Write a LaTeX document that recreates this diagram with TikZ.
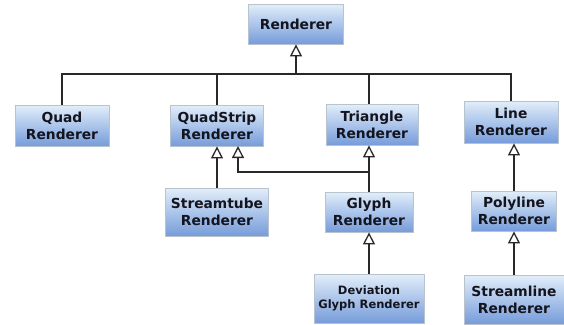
\documentclass[tikz,border=0pt]{standalone}
\usepackage{fontspec}
\setmainfont{DejaVu Sans}
\usetikzlibrary{arrows.meta}
\definecolor{boxtop}{RGB}{226,238,250}
\definecolor{boxbot}{RGB}{118,156,218}
\definecolor{boxline}{RGB}{185,195,205}
\definecolor{conn}{RGB}{40,40,40}
\definecolor{txt}{RGB}{20,20,30}
\tikzset{
  cls/.style={rectangle, draw=boxline, line width=0.8pt, top color=boxtop, bottom color=boxbot,
    inner sep=0pt, align=center, text=txt, font=\fontsize{13.8}{17}\selectfont\bfseries},
  small/.style={font=\fontsize{11.5}{14.5}\selectfont\bfseries},
  link/.style={draw=conn, line width=1.7pt},
  inherit/.style={link, -{Triangle[open, length=12pt, width=12pt, fill=white, line width=1.3pt]}},
}
\begin{document}
\begin{tikzpicture}[x=1pt, y=-1pt]
\useasboundingbox (0,0) rectangle (564,324);
\node[cls, minimum width=95pt, minimum height=40pt] (renderer) at (296,24) {Renderer};
\node[cls, minimum width=94pt, minimum height=41pt] (quad) at (62,125.5) {Quad\\Renderer};
\node[cls, minimum width=93pt, minimum height=41pt] (quadstrip) at (217,125.5) {QuadStrip\\Renderer};
\node[cls, minimum width=92pt, minimum height=41pt] (triangle) at (372,124.5) {Triangle\\Renderer};
\node[cls, minimum width=94pt, minimum height=42pt] (line) at (511,122) {Line\\Renderer};
\node[cls, minimum width=103pt, minimum height=48pt] (streamtube) at (217,212) {Streamtube\\Renderer};
\node[cls, minimum width=88pt, minimum height=40pt] (glyph) at (369,212) {Glyph\\Renderer};
\node[cls, small, minimum width=110pt, minimum height=49pt] (deviation) at (369,298.5) {Deviation\\Glyph Renderer};
\node[cls, minimum width=85pt, minimum height=40pt] (polyline) at (514,211) {Polyline\\Renderer};
\node[cls, minimum width=100pt, minimum height=49pt] (streamline) at (514,299.5) {Streamline\\Renderer};
% inheritance tree from Renderer
\coordinate (rj) at (296,74);
\coordinate (rl) at (62,74);
\coordinate (rr) at (511,74);
\draw[link] (quad.north) -- (rl) -- (rr) -- (line.north);
\draw[link] (quadstrip.north) -- (quadstrip.north |- rj);
\draw[link] (glyph.north |- triangle.north) -- (glyph.north |- rj);
\draw[inherit] (rj) -- (renderer.south);
% QuadStrip children
\coordinate (qs2) at (238,146);
\coordinate (gj) at (369,172);
\draw[inherit] (streamtube.north) -- (streamtube.north |- quadstrip.south);
\draw[inherit] (glyph.north) -- (gj) -- (gj -| qs2) -- (qs2);
\draw[inherit] (glyph.north) -- (glyph.north |- triangle.south);
\draw[inherit] (deviation.north) -- (glyph.south);
% Line branch
\draw[inherit] (polyline.north) -- (polyline.north |- line.south);
\draw[inherit] (streamline.north) -- (streamline.north |- polyline.south);
\end{tikzpicture}
\end{document}
